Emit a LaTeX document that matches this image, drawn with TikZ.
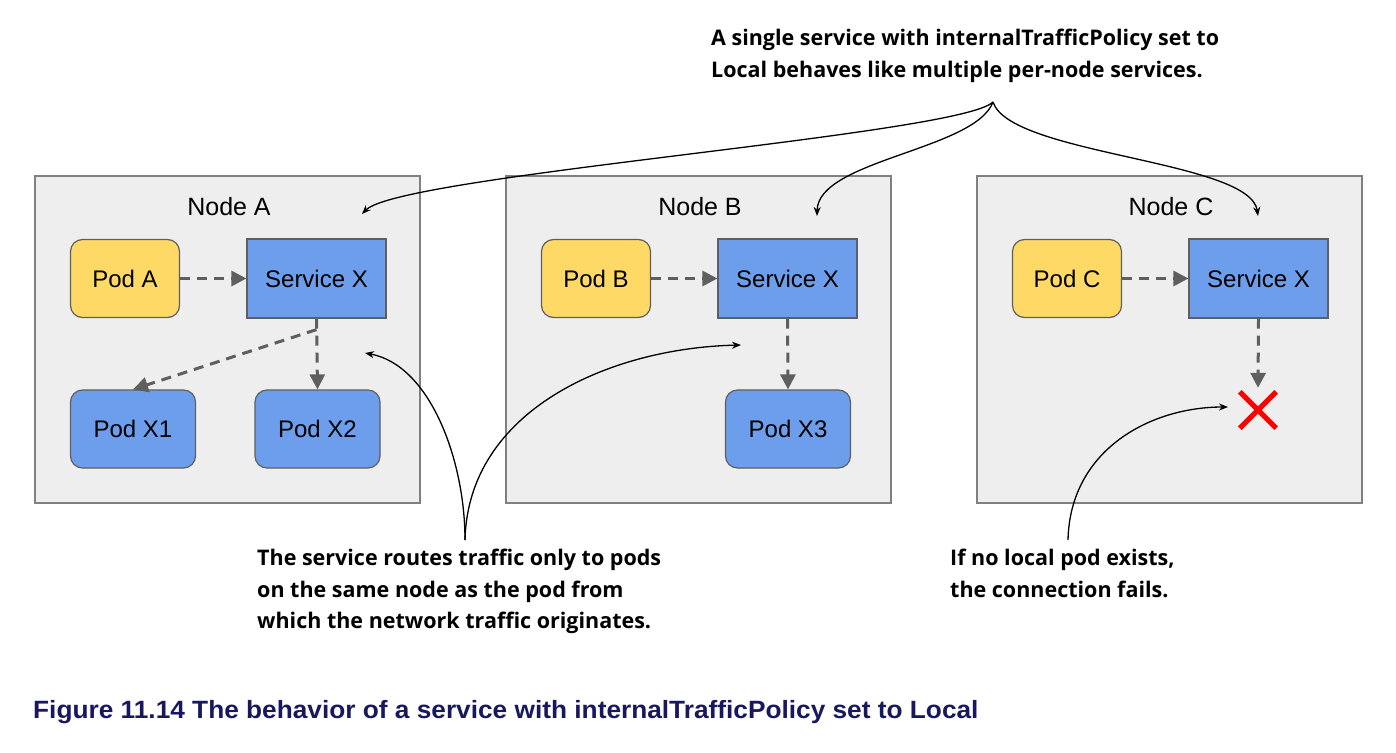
\documentclass[tikz,border=0pt]{standalone}
\usepackage{fontspec}
\setmainfont{Liberation Sans}
\newfontfamily\notefont{Open Sans}
\newfontfamily\capfont[FakeStretch=1.05]{Liberation Sans}
\usetikzlibrary{arrows.meta}
\definecolor{hostfill}{HTML}{EEEEEE}
\definecolor{hostline}{HTML}{808080}
\definecolor{podyellow}{HTML}{FFD966}
\definecolor{podblue}{HTML}{6D9EEB}
\definecolor{edgegray}{HTML}{5F5F5F}
\definecolor{capblue}{HTML}{18185E}
\tikzset{
  host/.style={draw=hostline, fill=hostfill, line width=1.2pt, minimum width=385pt, minimum height=327pt},
  hosttitle/.style={font=\fontsize{25}{30}\selectfont},
  pod/.style={draw=edgegray, line width=1.2pt, rounded corners=12pt, minimum height=78pt, font=\fontsize{24}{28}\selectfont},
  client/.style={pod, fill=podyellow, minimum width=109pt},
  backend/.style={pod, fill=podblue, minimum width=125pt},
  svc/.style={draw=edgegray, line width=1.2pt, fill=podblue, minimum width=139pt, minimum height=79pt, font=\fontsize{24}{28}\selectfont},
  flow/.style={draw=edgegray, line width=3pt, dash pattern=on 10pt off 7pt, -{Triangle[length=15pt,width=15pt]}},
  note/.style={align=left, anchor=north west, inner sep=0pt},
  pointer/.style={line width=1.3pt, -{Stealth[length=9pt,width=7pt]}},
  cross/.style={draw=red, line width=5pt}
}
\begin{document}
\begin{tikzpicture}[x=1pt, y=-1pt]
    \useasboundingbox (0,0) rectangle (1396,752);

    % Define nodes
    \foreach \n/\x in {A/0, B/471, C/942} {
        \node[host] (host\n) at (227.5+\x, 339.5) {};
        \node[hosttitle] (title\n) at (229+\x, 207) {Node \n};
        \node[client] (pod\n) at (125+\x, 278.5) {Pod \n};
        \node[svc] (svc\n) at (316.5+\x, 278.5) {Service X};
    }
    \node[backend] (podX1) at (133, 429) {Pod X1};
    \node[backend] (podX2) at (317.5, 429) {Pod X2};
    \node[backend] (podX3) at (788, 429) {Pod X3};
    \node[minimum size=36pt, inner sep=0pt] (fail) at (1258, 410) {};
    \draw[cross] (fail.north west) -- (fail.south east) (fail.north east) -- (fail.south west);

    % Connect the nodes
    \foreach \n in {A, B, C}
        \draw[flow] (pod\n) -- (svc\n);
    \draw[flow] (svcA.south) -- (podX2.north);
    \draw[flow] ([yshift=-11pt]svcA.south) -- (podX1.north);
    \draw[flow] (svcB.south) -- (podX3.north);
    \draw[flow] (svcC.south) -- ([yshift=4pt]fail.north);

    % Notes
    \node[note, font=\notefont\bfseries\fontsize{21.5}{32}\selectfont] (topnote) at (711, 29)
        {A single service with internalTrafficPolicy set to\\Local behaves like multiple per-node services.};
    \node[note, font=\notefont\bfseries\fontsize{21.5}{31.5}\selectfont] (routenote) at (257, 549)
        {The service routes traffic only to pods\\on the same node as the pod from\\which the network traffic originates.};
    \node[note, font=\notefont\bfseries\fontsize{21.5}{31.5}\selectfont] (failnote) at (950, 549)
        {If no local pod exists,\\the connection fails.};
    \coordinate (topfork) at (993, 102);
    \coordinate (routefork) at (465, 540);
    \coordinate (failfork) at (1068, 540);
    \coordinate (hitA) at (362, 214);
    \coordinate (hitB) at (817, 216);
    \coordinate (hitC) at (1258, 216);
    \coordinate (hitroute) at (365, 353);
    \coordinate (hitlocal) at (741, 345);
    \coordinate (hitfail) at (1228, 407);
    \draw[pointer] (topfork) .. controls (960, 135) and (400, 175) .. (hitA);
    \draw[pointer] (topfork) .. controls (975, 150) and (818, 160) .. (hitB);
    \draw[pointer] (topfork) .. controls (1010, 155) and (1250, 160) .. (hitC);
    \draw[pointer] (routefork) .. controls (465, 460) and (430, 365) .. (hitroute);
    \draw[pointer] (routefork) .. controls (468, 410) and (610, 348) .. (hitlocal);
    \draw[pointer] (failfork) .. controls (1070, 450) and (1150, 407) .. (hitfail);

    % Caption
    \node[note, anchor=west, text=capblue, font=\capfont\bfseries\fontsize{25}{30}\selectfont] (caption) at (33, 712)
        {Figure 11.14 The behavior of a service with internalTrafficPolicy set to Local};
\end{tikzpicture}
\end{document}
